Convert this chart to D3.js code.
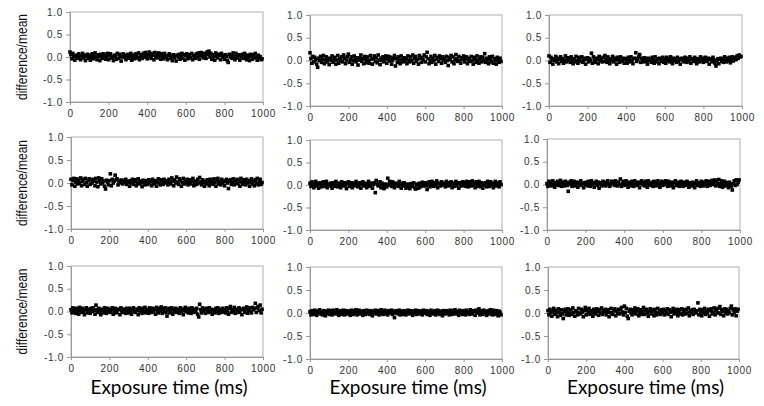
<!DOCTYPE html>
<html>
<head>
<meta charset="utf-8">
<script src="https://cdn.jsdelivr.net/npm/d3@7"></script>
<style>
	body { margin: 0; background: #fff; }
	svg { display: block; }
	.tick text { font-family: 'Liberation Sans', Arial, sans-serif; font-size: 10px; letter-spacing: 0.7px; fill: #333; }
	.tick line, .domain { stroke: #999; }
</style>
</head>
<body>
<svg id="chart" width="764" height="406"></svg>
<script>

// Tick labels shared by every panel
var xTicks = [0, 200, 400, 600, 800, 1000];
var yTicks = [-1.0, -0.5, 0.0, 0.5, 1.0];

// Exposure times sampled every 5 ms
var exposureTimes = d3.range(0, 1000, 5);

// difference/mean, stored in hundredths
var p1 = [11,5,-4,8,2,-7,1,4,-3,7,0,-6,3,8,-2,4,-8,1,6,-3,
	4,-7,0,7,-4,2,9,-1,-6,5,1,-8,6,0,-3,7,3,-5,2,8,
	-6,3,7,-2,0,-8,4,1,-5,8,-3,6,0,-9,2,7,-1,4,-6,2,
	6,-3,1,8,-7,0,4,-4,7,3,-2,9,-6,1,5,-3,8,0,10,4,
	-4,6,11,2,-3,8,4,-6,10,0,5,-2,9,3,-5,7,1,-4,8,2,
	0,-6,4,7,-3,1,-8,5,-2,3,-9,4,0,6,-5,2,8,-3,5,-7,
	3,7,-4,0,5,-2,8,-6,4,1,-3,7,0,9,-5,3,10,5,-2,8,
	4,-3,11,6,13,0,8,-5,5,1,-7,9,3,-2,6,4,-6,8,0,3,
	-5,5,1,-8,-12,6,0,4,-3,9,1,-6,8,2,-2,5,-7,4,0,6,
	-3,8,1,-6,4,0,-8,6,2,-5,5,-2,8,0,-7,4,-3,1,-6,-4];

var p2 = [17,4,-6,9,-3,7,1,-8,-15,5,0,9,-4,3,11,-7,1,8,-3,4,
	-9,5,0,10,-4,2,7,-8,1,11,-6,4,0,8,-3,12,5,-7,1,9,
	14,-4,2,8,-8,0,10,4,-3,6,-10,1,5,12,-2,4,-7,9,2,-5,
	8,0,-6,11,3,-8,4,10,-2,6,-5,12,1,-9,5,0,8,-3,4,10,
	-6,3,9,-1,7,-8,0,5,11,-12,4,-4,8,1,-7,10,2,-3,6,0,
	4,-7,10,1,-3,8,0,12,-6,4,9,-2,3,-8,11,5,-4,7,0,12,
	-3,8,18,4,-7,1,9,-4,5,0,11,-8,3,7,-2,10,4,-6,8,1,
	5,-4,9,0,-11,7,2,11,-3,8,-7,1,13,4,-2,9,0,-6,6,3,
	10,-3,4,8,-7,1,5,-2,9,0,-8,7,3,-4,10,1,-6,4,8,-3,
	7,0,15,-4,5,1,-7,8,2,-3,9,-6,4,0,-8,7,1,-4,5,-2];

var p3 = [10,-4,7,1,-8,4,0,9,-3,5,-7,2,8,-2,4,-6,1,10,-3,6,
	0,5,-4,8,1,-7,4,-3,9,0,-6,7,2,-2,8,-4,1,5,-8,3,
	6,-3,4,0,16,-6,8,1,-4,5,2,-7,9,0,4,-3,7,-2,11,3,
	-4,8,1,-7,4,0,9,-3,5,1,-8,7,2,-4,8,0,-2,5,-6,4,
	1,-6,7,2,-3,8,0,-7,4,5,17,-2,3,8,13,-4,5,0,-3,6,
	4,-2,-8,5,0,3,-4,7,1,-6,8,0,-3,4,-7,5,1,-2,7,-4,
	3,-6,7,0,4,-3,8,1,-7,5,0,3,-4,7,-2,4,-8,2,5,0,
	-3,7,1,-4,5,0,8,-6,3,4,-2,7,0,-7,4,1,-3,8,0,5,
	-4,3,7,-2,0,5,-8,2,4,-3,7,1,-6,-12,0,4,-7,3,5,-2,
	4,-4,8,1,-3,5,0,7,-5,3,8,-1,4,7,2,10,5,12,8,9];

var p4 = [8,-4,5,10,-7,2,9,-2,6,0,11,-6,4,8,-3,10,1,-7,5,9,
	-3,7,0,8,4,-6,10,2,-8,11,5,-2,9,0,4,-7,-13,6,2,-4,
	5,20,-6,8,0,4,17,7,9,-4,2,0,6,6,-2,5,2,8,-3,4,
	1,-7,5,0,8,-3,4,7,-6,1,9,-2,4,0,-8,6,2,-4,5,1,
	-3,7,0,4,-6,8,1,-2,5,-7,2,9,0,-4,7,1,-3,8,4,0,
	5,-4,8,1,-2,11,4,-6,7,0,13,2,-3,9,5,-7,1,10,-2,4,
	0,8,-4,2,7,-2,5,10,-6,1,4,-3,8,0,12,2,-4,7,1,-7,
	4,-2,7,2,-6,8,0,4,-3,9,1,-7,5,10,-2,3,-4,8,0,5,
	-6,3,8,0,-12,4,7,-3,1,9,-4,5,0,8,-2,4,-7,10,2,-3,
	7,1,-4,8,0,5,-7,2,9,-2,4,-6,7,0,10,-4,2,8,-3,1];

var p5 = [4,-3,7,0,-6,2,8,-2,4,-7,1,5,-4,0,7,-3,2,8,-6,1,
	-2,4,0,-7,5,2,-3,8,0,-4,4,1,-6,7,2,-2,5,0,-8,4,
	7,-3,1,5,-6,0,4,-2,8,2,-4,0,5,-7,2,7,-2,4,0,-6,
	2,8,-3,0,4,-7,1,5,-17,10,2,-2,0,7,-6,4,1,-8,-4,2,
	-4,15,0,8,2,-3,7,1,-6,4,3,0,-3,8,1,-7,4,-2,5,0,
	-7,2,-4,1,-8,3,-3,0,5,-6,-9,2,0,-7,4,-4,1,6,-2,2,
	5,-2,-10,2,7,-4,0,8,1,-3,5,0,9,-6,4,2,-2,7,0,4,
	2,-4,8,1,-2,5,0,7,-6,4,2,-3,8,0,4,-7,5,1,-2,7,
	0,5,-3,8,1,-4,7,2,-2,9,0,4,-6,7,1,-3,8,4,-4,5,
	-7,2,0,5,-4,8,1,-3,7,0,4,-6,2,8,-2,5,0,-4,7,1];

var p6 = [2,-4,7,0,5,-3,8,1,-6,4,0,7,-2,2,9,-4,5,0,-3,7,
	4,-2,-15,5,0,8,-4,2,7,-3,1,5,-6,4,0,8,-2,2,-7,4,
	0,5,-3,7,1,-4,8,0,4,-6,2,7,-2,5,-8,1,4,-3,7,0,
	5,-3,4,8,1,-4,0,7,6,2,-2,8,4,-3,5,0,12,-4,2,7,
	-2,4,8,0,-6,5,2,-3,7,1,-4,8,0,4,-2,5,-7,2,8,0,
	4,-3,7,1,-6,8,0,2,-2,5,-4,7,1,-3,4,8,0,-6,2,7,
	-2,5,0,8,2,-4,7,1,-3,5,0,-7,4,8,-2,2,5,-4,1,7,
	0,-4,5,2,-2,7,0,-6,4,1,-3,5,0,-7,2,8,-2,4,0,-4,
	7,1,-3,5,0,8,-4,2,7,-2,4,9,0,5,10,-3,7,1,11,-4,
	2,8,-6,1,7,-3,4,0,-7,5,1,-4,-12,2,8,-2,10,0,5,10];

var p7 = [4,-3,8,0,5,-4,7,1,-6,9,2,-2,7,0,-7,4,8,-3,5,1,
	-4,7,0,8,2,-6,14,4,-2,7,0,-7,5,2,-3,8,1,-4,7,0,
	5,-2,4,8,-6,1,7,-3,0,5,4,-7,8,1,-2,5,0,-4,7,2,
	-3,7,1,-6,4,8,0,-2,5,2,-7,8,1,4,-4,7,0,9,-3,5,
	1,-4,8,2,-2,7,0,5,-6,9,2,-3,7,1,10,-4,5,0,8,-2,
	-10,4,7,-3,1,8,-6,4,0,7,-2,5,2,-4,8,0,5,-7,2,9,
	0,5,-3,7,1,-4,8,2,-2,5,0,7,-6,-12,16,4,-3,8,1,5,
	-4,7,2,-2,8,0,5,-6,4,1,-3,7,0,8,-4,2,5,-2,7,0,
	4,-3,8,1,-6,7,11,-2,4,0,9,-4,5,2,-2,8,0,5,-7,4,
	7,-2,5,10,-4,2,8,0,-3,9,4,7,18,-2,8,11,2,14,-3,5];

var p8 = [3,-4,5,0,-3,6,1,-5,4,0,7,-2,2,-4,5,1,-6,4,0,6,
	-3,5,1,-4,6,0,4,-2,7,2,-5,1,5,-3,0,6,-4,2,5,-2,
	4,0,-5,6,1,-3,5,0,7,-4,2,6,-2,4,0,-5,5,2,-3,6,
	0,4,-3,5,1,-6,4,0,6,-2,2,5,-4,1,7,0,-3,4,6,-2,
	2,-4,5,0,1,6,-3,4,-10,0,5,2,-2,6,-4,1,4,-3,5,0,
	-4,2,6,0,-2,5,1,-5,4,0,6,-3,2,5,-2,0,4,-4,6,1,
	0,5,-3,4,1,-5,6,0,2,-2,5,-4,1,6,0,-3,4,1,-6,5,
	2,-2,5,0,4,-4,6,1,-3,5,0,7,-2,4,2,-5,6,0,4,-3,
	5,1,-4,6,0,2,-3,7,1,-2,5,4,-5,6,0,2,9,-4,5,1,
	-3,6,0,4,-5,1,5,-2,7,0,-4,6,2,-3,5,0,-6,4,1,-4];

var p9 = [5,-4,8,1,-7,4,10,-3,6,0,-8,9,2,-5,7,-2,-12,4,8,-4,
	2,9,-5,0,7,-3,11,1,-7,5,4,-4,10,0,-2,8,2,-8,5,12,
	-4,7,1,10,-3,5,0,-7,8,2,-2,9,4,-5,7,0,11,-3,5,1,
	8,-4,2,7,-8,1,10,0,-3,5,9,-6,4,0,8,-2,7,12,2,-4,
	15,1,10,-7,-12,4,8,0,-4,7,2,11,-2,5,9,-6,1,7,-3,4,
	12,-3,5,8,0,-7,4,9,-2,2,7,-6,8,1,-4,10,0,5,-3,7,
	1,8,-4,5,0,9,-3,7,2,-8,4,10,-2,5,0,8,-6,2,7,-2,
	9,-4,2,7,-2,8,0,11,-6,4,1,7,-3,8,4,0,5,22,-4,8,
	2,-6,7,1,10,-3,4,0,8,-7,5,9,-2,2,11,-4,7,1,10,0,
	14,-3,7,4,-6,9,1,8,-2,5,0,10,15,-4,7,2,9,-6,4,8];

var series = [p1, p2, p3, p4, p5, p6, p7, p8, p9];

// Plot areas [left, right, top, bottom] as placed in the original figure
var frames = [
	[70, 263, 12, 102], [310, 502, 15, 106], [549, 742, 15, 106],
	[71, 263, 137, 229], [310, 502, 140, 230], [547, 740, 139, 230],
	[71, 263, 266, 357], [310, 502, 267, 359], [548, 739, 267, 359]
];

var svg = d3.select('#chart');

series.forEach(function(values, i) {
	var f = frames[i];
	var w = f[1] - f[0], h = f[3] - f[2];

	var x = d3.scaleLinear().domain([0, 1000]).range([0, w]);
	var y = d3.scaleLinear().domain([-1, 1]).range([h, 0]);

	var g = svg.append('g')
		.attr('transform', 'translate(' + f[0] + ',' + f[2] + ')');

	// light frame round the plot area
	g.append('rect')
		.attr('width', w).attr('height', h)
		.attr('fill', 'none')
		.attr('stroke', '#b0b0b0');

	g.append('g')
		.call(d3.axisLeft(y).tickValues(yTicks).tickSize(4).tickSizeOuter(0)
			.tickFormat(function(d) { return d.toFixed(1); }));

	g.append('g')
		.attr('transform', 'translate(0,' + h + ')')
		.call(d3.axisBottom(x).tickValues(xTicks).tickSize(3).tickSizeOuter(0)
			.tickFormat(d3.format('d')))
		.call(function(a) { a.selectAll('text').attr('dy', '0.9em'); });

	// the points, small black squares
	var s = 3.6;
	g.append('g').selectAll('rect')
		.data(values)
		.join('rect')
		.attr('x', function(d, j) { return x(exposureTimes[j]) - s / 2; })
		.attr('y', function(d) { return y(d / 100) - s / 2; })
		.attr('width', s).attr('height', s)
		.attr('fill', '#000');

	// y title only on the left column
	if (i % 3 === 0) {
		svg.append('text')
			.attr('transform', 'translate(27,' + (f[2] + y(0)) + ') rotate(-90)')
			.attr('text-anchor', 'middle')
			.attr('textLength', 86)
			.attr('lengthAdjust', 'spacingAndGlyphs')
			.style('font-family', "'Liberation Sans', Arial, sans-serif")
			.style('font-size', '14px')
			.style('fill', '#111')
			.text('difference/mean');
	}

	// x title only on the bottom row
	if (i >= 6) {
		svg.append('text')
			.attr('x', f[0] + w / 2 + 2)
			.attr('y', 394)
			.attr('text-anchor', 'middle')
			.attr('textLength', 157)
			.attr('lengthAdjust', 'spacingAndGlyphs')
			.style('font-family', 'Lato, sans-serif')
			.style('font-size', '19px')
			.style('fill', '#000')
			.text('Exposure time (ms)');
	}
});

</script>
</body>
</html>
